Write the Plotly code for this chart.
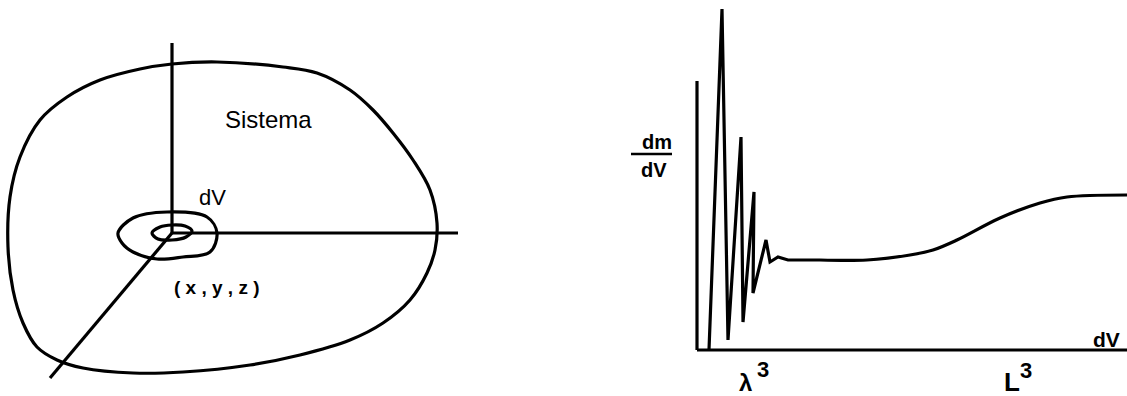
import plotly.graph_objects as go

# ---- left diagram: system outline (pixel-like coordinates, y downward)
blob_x = [172, 217, 283, 317, 350, 373, 393, 413, 430, 437, 435, 427, 410, 383, 350, 300, 250, 183, 133, 83, 57, 37, 23, 13, 8, 10, 20, 40, 67, 100, 140, 172]
blob_y = [64, 62, 67, 73, 90, 110, 133, 160, 190, 223, 250, 273, 300, 323, 340, 355, 365, 372, 373, 368, 360, 347, 323, 290, 247, 197, 157, 120, 97, 80, 69, 64]

# element dV loop
loop_x = [118, 133, 167, 207, 217, 210, 183, 157, 133, 122, 118]
loop_y = [233, 218, 212, 217, 233, 252, 257, 259, 252, 243, 233]

# point (x,y,z) small ellipse
small_x = [152, 160, 172, 185, 192, 186, 172, 158, 152]
small_y = [233, 227, 225, 226, 231, 237, 240, 239, 233]

# coordinate axes
axis_z_x = [172, 172]
axis_z_y = [43, 233]
axis_x_x = [172, 458]
axis_x_y = [233, 233]
axis_d_x = [172, 50]
axis_d_y = [233, 378]

# ---- right chart: dm/dV vs dV
osc_x = [709, 722, 728, 741, 743, 754, 753, 766, 770, 778, 788, 820]
osc_y = [350, 9, 340, 137, 322, 192, 293, 240, 262, 257, 260, 260]
smooth_x = [820, 867, 910, 933, 957, 1000, 1040, 1067, 1127]
smooth_y = [260, 260, 255, 250, 240, 218, 203, 197, 195]
yaxis_x = [697, 697]
yaxis_y = [81, 350]
xaxis_x = [697, 1127]
xaxis_y = [350, 350]

BLACK = "black"
LW = 3.2

fig = go.Figure()

def line(xs, ys, shape="linear", w=LW):
    fig.add_trace(go.Scatter(x=xs, y=ys, mode="lines",
                             line=dict(color=BLACK, width=w, shape=shape, smoothing=1.0),
                             hoverinfo="skip", showlegend=False))

line(blob_x, blob_y, "spline")
line(loop_x, loop_y, "spline")
line(small_x, small_y, "spline")
line(axis_z_x, axis_z_y)
line(axis_x_x, axis_x_y)
line(axis_d_x, axis_d_y)
line(yaxis_x, yaxis_y)
line(xaxis_x, xaxis_y)
line(osc_x, osc_y, "linear")
line(smooth_x, smooth_y, "spline")

FONT = "Liberation Sans, Arial, sans-serif"
NARROW = "Liberation Sans Narrow, Liberation Sans, Arial, sans-serif"

def text(x, y, s, size, bold=False, family=FONT):
    fig.add_annotation(x=x, y=y, text=(f"<b>{s}</b>" if bold else s), showarrow=False,
                       xanchor="center", yanchor="middle",
                       font=dict(family=family, size=size, color=BLACK))

text(268, 119, "Sistema", 24)
text(212, 197, "dV", 22)
text(217, 287, "( x , y , z )", 19, True)
text(657, 142, "dm", 20, True)
text(654, 170, "dV", 20, True)
text(1106, 339, "dV", 21, True)
text(745, 382, "λ", 24, True)
text(763, 369, "3", 22, True)
text(1012, 382, "L", 26, True, NARROW)
text(1026, 370, "3", 22, True)
fig.add_shape(type="line", x0=631, x1=672, y0=154, y1=154, line=dict(color=BLACK, width=2.5))

fig.update_layout(
    width=1127, height=396,
    margin=dict(l=0, r=0, t=0, b=0),
    paper_bgcolor="white", plot_bgcolor="white",
    xaxis=dict(range=[0, 1127], visible=False, fixedrange=True),
    yaxis=dict(range=[396, 0], visible=False, fixedrange=True),
)

fig.write_html("out.html", config={"displayModeBar": False},
               post_script="document.body.style.margin='0';document.body.style.overflow='hidden';")
